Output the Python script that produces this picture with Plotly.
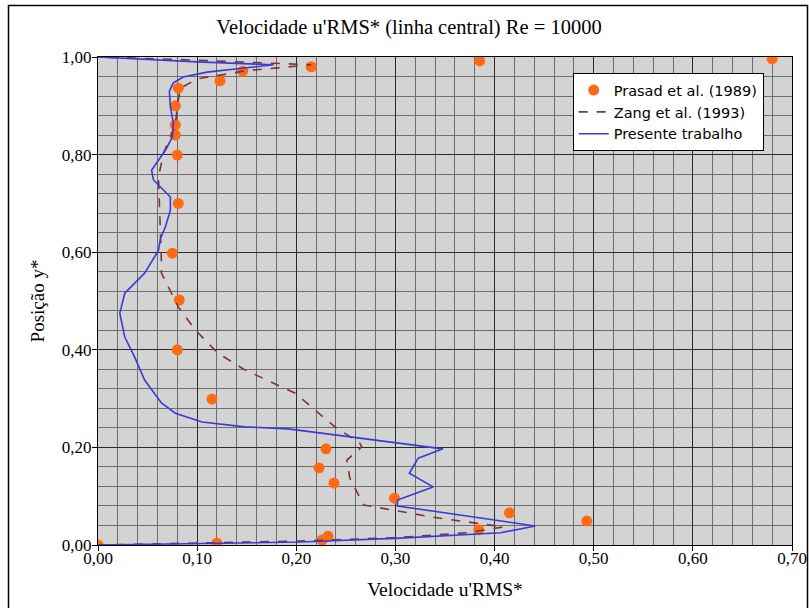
import plotly.graph_objects as go

# Prasad et al. (1989) - experimental points
prasad_x = [0.000, 0.120, 0.226, 0.232, 0.384, 0.415, 0.493, 0.299, 0.238, 0.223, 0.230, 0.115,
            0.080, 0.082, 0.075, 0.081, 0.080, 0.078, 0.078, 0.078, 0.081, 0.123, 0.146, 0.215,
            0.385, 0.680]
prasad_y = [0.000, 0.004, 0.010, 0.018, 0.031, 0.066, 0.049, 0.096, 0.127, 0.158, 0.197, 0.299,
            0.400, 0.502, 0.598, 0.700, 0.799, 0.840, 0.861, 0.900, 0.936, 0.951, 0.971, 0.980,
            0.992, 0.996]

# Zang et al. (1993)
zang_x = [0.000, 0.100, 0.200, 0.300, 0.372, 0.409, 0.338, 0.268, 0.254, 0.251, 0.266, 0.264,
          0.239, 0.199, 0.148, 0.121, 0.098, 0.081, 0.064, 0.064, 0.063, 0.061, 0.066, 0.078,
          0.080, 0.083, 0.100, 0.150, 0.215, 0.150, 0.080, 0.000]
zang_y = [0.000, 0.004, 0.008, 0.015, 0.025, 0.037, 0.057, 0.082, 0.137, 0.174, 0.201, 0.209,
          0.242, 0.311, 0.359, 0.393, 0.441, 0.488, 0.557, 0.578, 0.631, 0.754, 0.803, 0.860,
          0.900, 0.936, 0.955, 0.972, 0.984, 0.990, 0.995, 1.000]

# Presente trabalho
pres_x = [0.000, 0.100, 0.204, 0.305, 0.406, 0.441, 0.375, 0.302, 0.302, 0.338, 0.314, 0.323,
          0.348, 0.255, 0.192, 0.148, 0.105, 0.078, 0.064, 0.047, 0.037, 0.027, 0.022, 0.027,
          0.047, 0.061, 0.063, 0.068, 0.073, 0.073, 0.056, 0.054, 0.068, 0.075, 0.076, 0.073,
          0.072, 0.076, 0.086, 0.110, 0.143, 0.177, 0.100, 0.042, 0.000]
pres_y = [0.000, 0.003, 0.006, 0.014, 0.025, 0.039, 0.058, 0.080, 0.092, 0.119, 0.147, 0.178,
          0.197, 0.221, 0.238, 0.242, 0.252, 0.270, 0.291, 0.338, 0.385, 0.426, 0.475, 0.516,
          0.557, 0.604, 0.628, 0.652, 0.686, 0.713, 0.748, 0.768, 0.809, 0.836, 0.865, 0.898,
          0.930, 0.947, 0.959, 0.969, 0.977, 0.984, 0.990, 0.995, 1.000]

serif = "Liberation Serif"

fig = go.Figure()
fig.add_trace(go.Scatter(x=prasad_x, y=prasad_y, mode="markers", name="Prasad et al. (1989)",
                         marker=dict(color="#ff6a13", size=11)))
fig.add_trace(go.Scatter(x=zang_x, y=zang_y, mode="lines", name="Zang et al. (1993)",
                         line=dict(color="#7a3535", width=1.6, dash="dash")))
fig.add_trace(go.Scatter(x=pres_x, y=pres_y, mode="lines", name="Presente trabalho",
                         line=dict(color="#3a3ad8", width=1.6)))

fig.update_layout(
    width=809, height=608,
    margin=dict(l=98, r=17, t=57, b=63, autoexpand=False),
    paper_bgcolor="white",
    plot_bgcolor="#d3d3d3",
    separators=", ",
    font=dict(family=serif),
    title=dict(text="Velocidade u'RMS* (linha central) Re = 10000", x=(409 - 98) / 694,
               xref="paper", xanchor="center", y=1 - 27 / 608, yanchor="middle",
               font=dict(family=serif, size=20.5, color="black")),
    legend=dict(x=0.684, y=0.967, xanchor="left", yanchor="top", bgcolor="white",
                bordercolor="black", borderwidth=1,
                font=dict(family="DejaVu Sans", size=14.5, color="black"),
                tracegroupgap=0),
    showlegend=True,
)

fig.update_xaxes(range=[0, 0.7], dtick=0.1, tick0=0, tickformat=".2f", automargin=False,
                 showgrid=True, gridcolor="#2a2a2a", gridwidth=1,
                 minor=dict(dtick=0.02, showgrid=True, gridcolor="#6e6e6e", gridwidth=1),
                 ticks="outside", ticklen=5, tickcolor="black", ticklabelstandoff=-7,
                 showline=True, linecolor="black", linewidth=1, mirror=True, zeroline=False,
                 tickfont=dict(family=serif, size=17, color="black"),
                 title=dict(text="Velocidade u'RMS*", font=dict(family=serif, size=19.5, color="black"),
                            standoff=14))
fig.update_yaxes(range=[0, 1.0], dtick=0.2, tick0=0, tickformat=".2f", automargin=False,
                 showgrid=True, gridcolor="#2a2a2a", gridwidth=1,
                 minor=dict(dtick=0.04, showgrid=True, gridcolor="#6e6e6e", gridwidth=1),
                 ticks="outside", ticklen=5, tickcolor="black", ticklabelstandoff=-3,
                 showline=True, linecolor="black", linewidth=1, mirror=True, zeroline=False,
                 tickfont=dict(family=serif, size=17, color="black"),
                 title=dict(text="Posição y*", font=dict(family=serif, size=19, color="black"),
                            standoff=12))

# outer frame around the figure
pw, ph = 809 - 98 - 17, 608 - 57 - 63
fig.add_shape(type="rect", xref="paper", yref="paper", layer="above",
              x0=(8.5 - 98) / pw, x1=(807.5 - 98) / pw,
              y0=(545 - 612) / ph, y1=(545 - 5.5) / ph,
              line=dict(color="black", width=1.5), fillcolor="rgba(0,0,0,0)")

fig.write_html("out.html")
